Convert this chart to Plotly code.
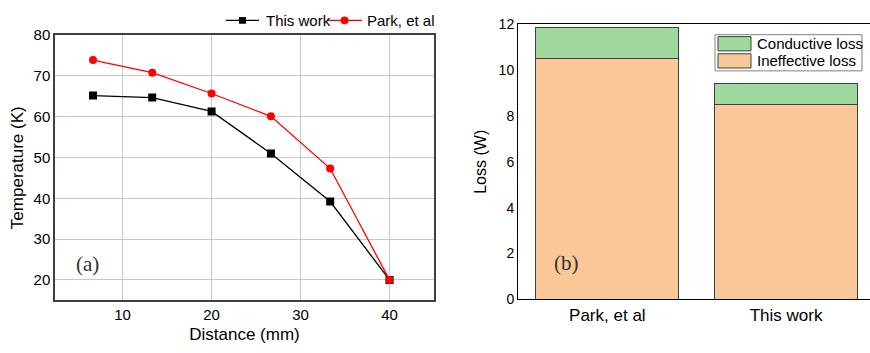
import plotly.graph_objects as go

# Panel (a) data
distance = [6.67, 13.33, 20, 26.67, 33.33, 40]
temp_this_work = [65.2, 64.7, 61.3, 51.0, 39.2, 20.0]
temp_park = [73.9, 70.8, 65.7, 60.1, 47.3, 20.0]
line_names = ["This work", "Park, et al"]

# Panel (b) data
categories = ["Park, et al", "This work"]
ineffective_loss = [10.52, 8.51]
conductive_loss = [1.32, 0.90]
bar_names = ["Ineffective loss", "Conductive loss"]

FONT = "Liberation Sans, Arial, sans-serif"
SERIF = "Liberation Serif, Times New Roman, serif"
W, H = 870, 353
BLACK, RED = "black", "#ff0000"
ORANGE, GREEN = "#FAC898", "#A0D99E"


def px(x):
    return x / W


def py(y):
    return 1 - y / H


fig = go.Figure()

fig.add_trace(go.Scatter(
    x=distance, y=temp_this_work, mode="lines+markers", name=line_names[0],
    line=dict(color=BLACK, width=1.3),
    marker=dict(symbol="square", size=8, color=BLACK),
    xaxis="x", yaxis="y", showlegend=False))
fig.add_trace(go.Scatter(
    x=distance, y=temp_park, mode="lines+markers", name=line_names[1],
    line=dict(color=RED, width=1.3),
    marker=dict(symbol="circle", size=8, color=RED),
    xaxis="x", yaxis="y", showlegend=False))

fig.add_trace(go.Bar(
    x=categories, y=ineffective_loss, name=bar_names[0],
    marker=dict(color=ORANGE, line=dict(color="#404040", width=1)),
    width=0.8, xaxis="x2", yaxis="y2", showlegend=False))
fig.add_trace(go.Bar(
    x=categories, y=conductive_loss, name=bar_names[1],
    marker=dict(color=GREEN, line=dict(color="#404040", width=1)),
    width=0.8, xaxis="x2", yaxis="y2", showlegend=False))

shapes = []
annotations = []

# Legend for panel (a), drawn manually (horizontal, above the plot)
leg_a = [(226, 259, BLACK, "rect", line_names[0], 264),
         (327, 362, RED, "circle", line_names[1], 365)]
ly = 12
for x0, x1, col, sym, name, tx in leg_a:
    shapes.append(dict(type="line", xref="paper", yref="paper",
                       x0=px(x0), x1=px(x1), y0=py(ly), y1=py(ly),
                       line=dict(color=col, width=1.3)))
    cx = (x0 + x1) / 2
    r = 3.5 if sym == "rect" else 4
    shapes.append(dict(type=sym, xref="paper", yref="paper",
                       x0=px(cx - r), x1=px(cx + r), y0=py(ly + r), y1=py(ly - r),
                       fillcolor=col, line=dict(color=col, width=0)))
    annotations.append(dict(text=name, x=px(tx), y=py(ly), xref="paper", yref="paper",
                            xanchor="left", yanchor="middle", showarrow=False,
                            font=dict(size=15)))

# Legend for panel (b), drawn manually (boxed, top right)
shapes.append(dict(type="rect", xref="paper", yref="paper",
                   x0=px(715), x1=px(862), y0=py(27), y1=py(65),
                   fillcolor="white", line=dict(color="#808080", width=1)))
leg_b = [(29, 44, GREEN, bar_names[1]), (47, 62, ORANGE, bar_names[0])]
for y0, y1, col, name in leg_b:
    shapes.append(dict(type="rect", xref="paper", yref="paper",
                       x0=px(718), x1=px(751), y0=py(y0), y1=py(y1),
                       fillcolor=col, line=dict(color="#404040", width=1)))
    annotations.append(dict(text=name, x=px(755), y=py((y0 + y1) / 2), xref="paper",
                            yref="paper", xanchor="left", yanchor="middle",
                            showarrow=False, font=dict(size=15)))

annotations += [
    dict(text="(a)", x=px(74), y=py(268), xref="paper", yref="paper",
         xanchor="left", yanchor="middle", showarrow=False,
         font=dict(family=SERIF, size=21, color="#333333")),
    dict(text="(b)", x=px(552), y=py(267), xref="paper", yref="paper",
         xanchor="left", yanchor="middle", showarrow=False,
         font=dict(family=SERIF, size=21, color="#333333")),
]

fig.update_layout(
    width=W, height=H,
    margin=dict(l=0, r=0, t=0, b=0),
    paper_bgcolor="white", plot_bgcolor="white",
    font=dict(family=FONT, color="black"),
    barmode="stack",
    showlegend=False,
    xaxis=dict(domain=[px(55), px(434)], range=[2.4, 45], tickvals=[10, 20, 30, 40],
               showgrid=True, gridcolor="#c8c8c8", gridwidth=1,
               showline=True, linecolor="#404040", linewidth=1.5, mirror=True,
               ticks="", zeroline=False, tickfont=dict(size=15),
               title=dict(text="Distance (mm)", font=dict(size=17), standoff=6)),
    yaxis=dict(domain=[47 / H, 325.5 / H], range=[15, 80], tickvals=[20, 30, 40, 50, 60, 70, 80],
               showgrid=True, gridcolor="#c8c8c8", gridwidth=1,
               showline=True, linecolor="#404040", linewidth=1.5, mirror=True,
               ticks="", zeroline=False, tickfont=dict(size=15),
               title=dict(text="Temperature (K)", font=dict(size=17), standoff=6)),
    xaxis2=dict(domain=[px(518), 1.0], range=[-0.5, 1.47], anchor="y2",
                showgrid=False, showline=True, linecolor="black", linewidth=1, mirror=True,
                ticks="", tickfont=dict(size=17), zeroline=False),
    yaxis2=dict(domain=[48 / H, 337 / H], range=[0, 12], tickvals=[0, 2, 4, 6, 8, 10, 12],
                anchor="x2", showgrid=False, showline=True, linecolor="black", linewidth=1,
                ticks="", zeroline=False, tickfont=dict(size=14),
                title=dict(text="Loss (W)", font=dict(size=16), standoff=8)),
    shapes=shapes,
    annotations=annotations,
)

fig.write_html("out.html")
